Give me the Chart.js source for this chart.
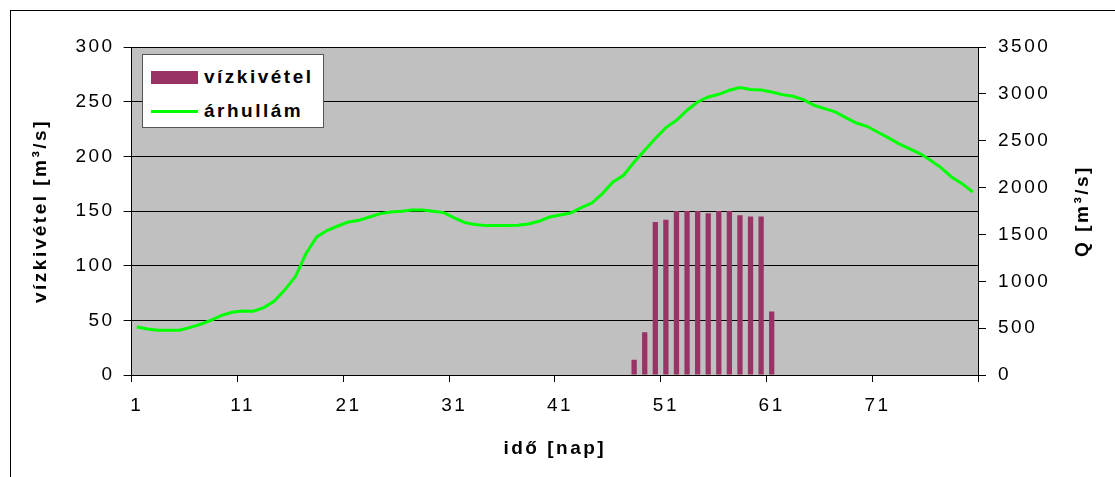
<!DOCTYPE html>
<html lang="hu">
<head>
<meta charset="utf-8">
<title>vízkivétel és árhullám</title>
<script src="https://cdn.jsdelivr.net/npm/chart.js@4.4.1/dist/chart.umd.min.js"></script>
<style>
  body { margin: 0; background: #fff; }
  #keret { position: relative; width: 1115px; height: 477px; overflow: hidden; }
  #szegely { position: absolute; left: 10px; top: 10px; width: 1200px; height: 600px; border: 1px solid #000; box-sizing: border-box; }
  #grafiek { position: absolute; left: 0; top: 0; }
  #jelmagyarazat {
    position: absolute; left: 142px; top: 54px; width: 182px; height: 74px;
    background: #fff; border: 1px solid #555; box-sizing: border-box;
    font: bold 19px "Liberation Sans", Arial, sans-serif; letter-spacing: 2.5px; color: #000;
  }
  .sor { position: absolute; left: 8px; height: 22px; display: flex; align-items: center; }
  .minta { width: 47px; margin-right: 6px; }
</style>
</head>
<body>
<div id="keret">
  <div id="szegely"></div>
  <canvas id="grafiek" width="1115" height="477"></canvas>
  <div id="jelmagyarazat"></div>
</div>
<script>
// napok (kategóriák)
const napok = [1, 2, 3, 4, 5, 6, 7, 8, 9, 10, 11, 12, 13, 14, 15, 16, 17, 18, 19, 20,
  21, 22, 23, 24, 25, 26, 27, 28, 29, 30, 31, 32, 33, 34, 35, 36, 37, 38, 39, 40,
  41, 42, 43, 44, 45, 46, 47, 48, 49, 50, 51, 52, 53, 54, 55, 56, 57, 58, 59, 60,
  61, 62, 63, 64, 65, 66, 67, 68, 69, 70, 71, 72, 73, 74, 75, 76, 77, 78, 79, 80];

// csak ezek a napok kapnak feliratot az x tengelyen
const xFeliratok = [1, 11, 21, 31, 41, 51, 61, 71];

// vízkivétel [m3/s] a 48. naptól a 61. napig
const vizkivetelKezdoNap = 48;
const vizkivetelErtekek = [14, 39, 140, 142, 150, 150, 150, 148, 150, 150, 146, 145, 145, 58];

// árhullám Q [m3/s], naponta
const arhullam = [512, 491, 477, 477, 477, 506, 541, 584, 637, 669,
  683, 680, 719, 790, 911, 1053, 1300, 1473, 1544, 1590,
  1633, 1651, 1686, 1722, 1740, 1747, 1761, 1761, 1747, 1733,
  1676, 1626, 1605, 1594, 1594, 1594, 1598, 1612, 1640, 1686,
  1707, 1729, 1786, 1835, 1936, 2060, 2131, 2273, 2398, 2523,
  2640, 2718, 2825, 2913, 2967, 2995, 3038, 3067, 3046, 3042,
  3020, 2992, 2974, 2939, 2878, 2843, 2807, 2747, 2689, 2654,
  2593, 2533, 2469, 2416, 2363, 2291, 2213, 2113, 2042, 1953];

// tengelyek határai
const balMax = 300, balLepes = 50;
const jobbMax = 3500, jobbLepes = 500;

// vízkivétel a napokhoz igazítva (máskor nincs oszlop)
const vizkivetel = napok.map(nap => {
  const i = nap - vizkivetelKezdoNap;
  return i >= 0 && i < vizkivetelErtekek.length ? vizkivetelErtekek[i] : null;
});

const betu = "'Liberation Sans', Arial, sans-serif";
Chart.defaults.font.family = betu;
Chart.defaults.font.size = 19;
Chart.defaults.color = '#000';

// szürke rajzterület háttér + ritkított betűk
const hatter = {
  id: 'hatter',
  beforeDraw(chart) {
    const { ctx, chartArea } = chart;
    ctx.save();
    ctx.fillStyle = '#c0c0c0';
    ctx.fillRect(chartArea.left, chartArea.top, chartArea.right - chartArea.left, chartArea.bottom - chartArea.top);
    ctx.restore();
    ctx.letterSpacing = '2.5px';
  }
};

// jobb oldali tengelycím alulról felfelé olvasva
const jobbCim = {
  id: 'jobbCim',
  afterDraw(chart) {
    const { ctx, chartArea } = chart;
    ctx.save();
    ctx.translate(1083, (chartArea.top + chartArea.bottom) / 2);
    ctx.rotate(-Math.PI / 2);
    ctx.font = 'bold 19px ' + betu;
    ctx.letterSpacing = '2.5px';
    ctx.fillStyle = '#000';
    ctx.textAlign = 'center';
    ctx.textBaseline = 'middle';
    ctx.fillText('Q [m³/s]', 0, 0);
    ctx.restore();
  }
};

const adatsorok = [
  {
    type: 'bar',
    label: 'vízkivétel',
    data: vizkivetel,
    backgroundColor: '#993366',
    barPercentage: 0.5,
    categoryPercentage: 1,
    yAxisID: 'y',
    order: 2
  },
  {
    type: 'line',
    label: 'árhullám',
    data: arhullam,
    borderColor: '#00ff00',
    borderWidth: 3,
    pointRadius: 0,
    tension: 0,
    yAxisID: 'y1',
    order: 1
  }
];

new Chart(document.getElementById('grafiek'), {
  data: { labels: napok, datasets: adatsorok },
  options: {
    responsive: false,
    animation: false,
    layout: { padding: { left: 10, top: 47, right: 0, bottom: 0 } },
    plugins: { legend: { display: false }, tooltip: { enabled: false } },
    scales: {
      x: {
        offset: true,
        grid: {
          offset: true,
          drawOnChartArea: false,
          tickLength: 7,
          color: c => (c.index === undefined || c.index % 10 === 0) ? '#000' : 'rgba(0,0,0,0)'
        },
        border: { color: '#000' },
        ticks: {
          autoSkip: false,
          maxRotation: 0,
          padding: 12,
          callback: (v, i) => xFeliratok.includes(napok[i]) ? String(napok[i]) : ''
        },
        title: { display: true, text: 'idő [nap]', font: { size: 19, weight: 'bold' }, padding: { top: 0, bottom: 17 } },
        afterFit: s => { s.height = 102; }
      },
      y: {
        position: 'left',
        min: 0,
        max: balMax,
        ticks: { stepSize: balLepes, padding: 9, callback: v => String(v) },
        grid: { color: '#000', tickLength: 8 },
        border: { color: '#000' },
        title: { display: true, text: 'vízkivétel [m³/s]', font: { size: 19, weight: 'bold' }, padding: { top: 19, bottom: 0 } },
        afterFit: s => { s.width = 121.6; }
      },
      y1: {
        position: 'right',
        min: 0,
        max: jobbMax,
        ticks: { stepSize: jobbLepes, padding: 12, callback: v => String(v) },
        grid: { drawOnChartArea: false, color: '#000', tickLength: 8 },
        border: { color: '#000' },
        afterFit: s => { s.width = 137; }
      }
    }
  },
  plugins: [hatter, jobbCim]
});

// jelmagyarázat a bal felső sarokban
const jm = document.getElementById('jelmagyarazat');
adatsorok.forEach((ds, i) => {
  const sor = document.createElement('div');
  sor.className = 'sor';
  sor.style.top = (i === 0 ? 11 : 45) + 'px';
  const minta = document.createElement('span');
  minta.className = 'minta';
  if (ds.type === 'bar') {
    minta.style.height = '13px';
    minta.style.background = ds.backgroundColor;
  } else {
    minta.style.height = '3px';
    minta.style.background = ds.borderColor;
  }
  const szoveg = document.createElement('span');
  szoveg.textContent = ds.label;
  sor.appendChild(minta);
  sor.appendChild(szoveg);
  jm.appendChild(sor);
});
</script>
</body>
</html>
